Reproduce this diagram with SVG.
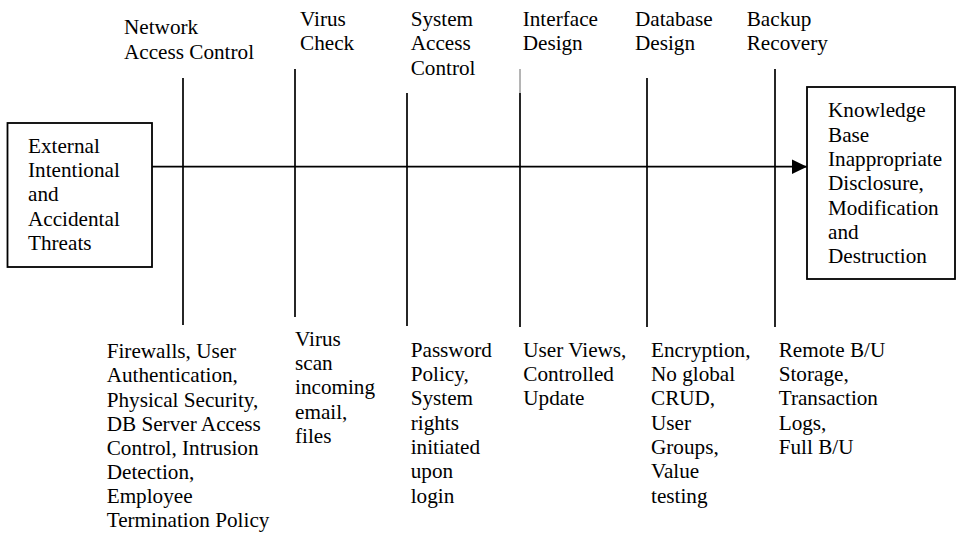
<svg xmlns="http://www.w3.org/2000/svg" width="957" height="535" viewBox="0 0 957 535">
<style>
.t{font-family:'Liberation Serif','Times New Roman',Tinos,'DejaVu Serif',serif;font-size:21.2px;fill:#000}
.box{fill:#fff;stroke:#000;stroke-width:1.8}
.ln{stroke:#000;stroke-width:1.7;fill:none}
.thin{stroke:#444;stroke-width:0.8;fill:none}
</style>
<defs>
<marker id="arr" markerUnits="userSpaceOnUse" markerWidth="16" markerHeight="16" refX="15.5" refY="8" orient="auto">
<path d="M0,0.5 L15.5,8 L0,15.5 Z" fill="#000"/>
</marker>
</defs>
<g id="connectors">
<line class="ln" x1="183" y1="78" x2="183" y2="325"/>
<line class="ln" x1="295" y1="69" x2="295" y2="317"/>
<line class="ln" x1="407" y1="93" x2="407" y2="326"/>
<line class="thin" x1="520" y1="69" x2="520" y2="93"/>
<line class="ln" x1="520" y1="93" x2="520" y2="327"/>
<line class="ln" x1="647" y1="78" x2="647" y2="327"/>
<line class="ln" x1="775" y1="69" x2="775" y2="327"/>
<line class="ln" x1="152" y1="166.7" x2="807" y2="166.7" marker-end="url(#arr)"/>
</g>
<g id="threats" class="t" font-family="Liberation Serif, serif">
<rect class="box" x="7.5" y="123" width="144.5" height="144"/>
<text x="28" y="152.7">External</text>
<text x="28" y="177">Intentional</text>
<text x="28" y="201.3">and</text>
<text x="28" y="225.6">Accidental</text>
<text x="28" y="250">Threats</text>
</g>
<g id="knowledge" class="t" font-family="Liberation Serif, serif">
<rect class="box" x="807" y="87" width="148" height="192"/>
<text x="828" y="117.3">Knowledge</text>
<text x="828" y="141.6">Base</text>
<text x="828" y="166">Inappropriate</text>
<text x="828" y="190.3">Disclosure,</text>
<text x="828" y="214.6">Modification</text>
<text x="828" y="239">and</text>
<text x="828" y="263.3">Destruction</text>
</g>
<g id="network" class="t" font-family="Liberation Serif, serif">
<text x="124" y="34.3">Network</text>
<text x="124" y="58.6">Access Control</text>
<text x="106.7" y="358.3">Firewalls, User</text>
<text x="106.7" y="382.4">Authentication,</text>
<text x="106.7" y="406.5">Physical Security,</text>
<text x="106.7" y="430.6">DB Server Access</text>
<text x="106.7" y="454.7">Control, Intrusion</text>
<text x="106.7" y="478.8">Detection,</text>
<text x="106.7" y="502.9">Employee</text>
<text x="106.7" y="527">Termination Policy</text>
</g>
<g id="virus" class="t" font-family="Liberation Serif, serif">
<text x="300" y="25.5">Virus</text>
<text x="300" y="50">Check</text>
<text x="295" y="346">Virus</text>
<text x="295" y="370.2">scan</text>
<text x="295" y="394.4">incoming</text>
<text x="295" y="418.6">email,</text>
<text x="295" y="442.8">files</text>
</g>
<g id="system" class="t" font-family="Liberation Serif, serif">
<text x="410.7" y="25.5">System</text>
<text x="410.7" y="50">Access</text>
<text x="410.7" y="74.5">Control</text>
<text x="410.7" y="356.7">Password</text>
<text x="410.7" y="381">Policy,</text>
<text x="410.7" y="405.3">System</text>
<text x="410.7" y="429.6">rights</text>
<text x="410.7" y="454">initiated</text>
<text x="410.7" y="478.3">upon</text>
<text x="410.7" y="502.6">login</text>
</g>
<g id="interface" class="t" font-family="Liberation Serif, serif">
<text x="522.7" y="25.5">Interface</text>
<text x="522.7" y="50">Design</text>
<text x="523.3" y="356.7">User Views,</text>
<text x="523.3" y="381">Controlled</text>
<text x="523.3" y="405.3">Update</text>
</g>
<g id="database" class="t" font-family="Liberation Serif, serif">
<text x="635" y="25.5">Database</text>
<text x="635" y="50">Design</text>
<text x="651" y="356.7">Encryption,</text>
<text x="651" y="381">No global</text>
<text x="651" y="405.3">CRUD,</text>
<text x="651" y="429.6">User</text>
<text x="651" y="454">Groups,</text>
<text x="651" y="478.3">Value</text>
<text x="651" y="502.6">testing</text>
</g>
<g id="backup" class="t" font-family="Liberation Serif, serif">
<text x="746.7" y="25.5">Backup</text>
<text x="746.7" y="50">Recovery</text>
<text x="778.7" y="356.7">Remote B/U</text>
<text x="778.7" y="381">Storage,</text>
<text x="778.7" y="405.3">Transaction</text>
<text x="778.7" y="429.6">Logs,</text>
<text x="778.7" y="454">Full B/U</text>
</g>
</svg>
